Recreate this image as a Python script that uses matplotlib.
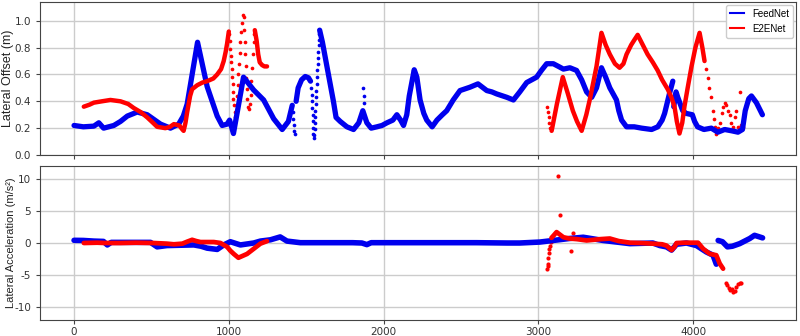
import numpy as np
import matplotlib
import matplotlib.pyplot as plt
from matplotlib.lines import Line2D
matplotlib.use('Agg')

# ---- top panel: lateral offset (m) ----
# FeedNet, dense parts drawn as thick lines, sparse parts as dots
fn_off_a_x = [0, 60, 128, 160, 191, 257, 300, 344, 408, 473, 559, 623, 676, 706, 731, 798,
              860, 925, 957, 989, 1005, 1030, 1095, 1160, 1225, 1290, 1345, 1385, 1410]
fn_off_a_y = [0.22, 0.21, 0.215, 0.24, 0.20, 0.22, 0.25, 0.29, 0.32, 0.30, 0.23, 0.20, 0.23, 0.29, 0.38, 0.84,
              0.51, 0.29, 0.22, 0.23, 0.26, 0.16, 0.58, 0.485, 0.41, 0.27, 0.19, 0.25, 0.37]
fn_off_b_x = [1435, 1448, 1470, 1494, 1515, 1528]
fn_off_b_y = [0.40, 0.50, 0.56, 0.585, 0.575, 0.55]
fn_off_c_x = [1587, 1605, 1634, 1676, 1693, 1720, 1763, 1806, 1840, 1866, 1892, 1920, 1957, 1990, 2022,
              2060, 2086, 2110, 2129, 2150, 2166, 2198, 2215, 2236, 2260, 2279, 2314, 2345, 2380, 2408,
              2450, 2494, 2558, 2610, 2667, 2700, 2731, 2796, 2839, 2880, 2925, 2989, 3020, 3054, 3097,
              3130, 3162, 3204, 3247, 3280, 3312, 3345, 3376, 3408, 3435, 3462, 3505, 3520, 3538, 3570,
              3620, 3668, 3732, 3772, 3800, 3816, 3848, 3869]
fn_off_c_y = [0.93, 0.84, 0.66, 0.40, 0.28, 0.25, 0.21, 0.19, 0.24, 0.33, 0.24, 0.20, 0.21, 0.22, 0.24,
              0.26, 0.30, 0.26, 0.22, 0.30, 0.44, 0.635, 0.58, 0.41, 0.31, 0.26, 0.21, 0.26, 0.30, 0.33,
              0.41, 0.48, 0.505, 0.53, 0.48, 0.47, 0.455, 0.43, 0.41, 0.47, 0.54, 0.58, 0.63, 0.68, 0.68,
              0.66, 0.64, 0.65, 0.63, 0.56, 0.47, 0.43, 0.50, 0.65, 0.58, 0.50, 0.41, 0.33, 0.26, 0.21,
              0.21, 0.20, 0.19, 0.21, 0.26, 0.31, 0.46, 0.55]
fn_off_d_x = [3875, 3890, 3901, 3933, 3955, 3995, 4010, 4029, 4070, 4118, 4160, 4204, 4250, 4290, 4319,
              4337, 4360, 4377, 4409, 4448]
fn_off_d_y = [0.36, 0.47, 0.43, 0.33, 0.31, 0.30, 0.25, 0.21, 0.19, 0.20, 0.17, 0.19, 0.18, 0.17, 0.19,
              0.33, 0.42, 0.44, 0.39, 0.30]
fn_off_dots_x = [1414, 1418, 1421, 1424, 1427, 1532, 1535, 1537, 1539, 1541, 1543, 1545, 1547, 1549,
                 1552, 1554, 1556, 1558, 1560, 1562, 1564, 1566, 1568, 1570, 1572, 1574, 1576, 1578,
                 1580, 1582, 1584, 1870, 1871, 1872]
fn_off_dots_y = [0.32, 0.27, 0.22, 0.18, 0.16, 0.50, 0.45, 0.40, 0.35, 0.30, 0.25, 0.20, 0.16, 0.13,
                 0.15, 0.19, 0.24, 0.28, 0.33, 0.38, 0.43, 0.48, 0.53, 0.58, 0.63, 0.68, 0.72, 0.77,
                 0.82, 0.86, 0.90, 0.50, 0.44, 0.39]

# E2ENet
e2e_off_a_x = [63, 100, 128, 180, 235, 300, 350, 386, 430, 473, 510, 537, 590, 620, 645, 680, 700, 708,
               720, 731, 750, 763, 796, 830, 860, 900, 925, 950, 967, 980, 989, 1000]
e2e_off_a_y = [0.36, 0.375, 0.39, 0.40, 0.41, 0.40, 0.38, 0.35, 0.32, 0.28, 0.24, 0.21, 0.20, 0.21, 0.23,
               0.22, 0.19, 0.18, 0.24, 0.32, 0.44, 0.49, 0.52, 0.54, 0.55, 0.57, 0.60, 0.64, 0.70, 0.77,
               0.83, 0.92]
e2e_off_b_x = [1168, 1180, 1190, 1200, 1215, 1230, 1247]
e2e_off_b_y = [0.93, 0.85, 0.75, 0.69, 0.67, 0.66, 0.66]
e2e_off_c_x = [3086, 3120, 3158, 3190, 3223, 3250, 3280, 3310, 3332, 3355, 3376, 3408, 3435, 3462, 3495,
               3525, 3550, 3570, 3600, 3622, 3642, 3675, 3706, 3740, 3771, 3800, 3836, 3860, 3880, 3895,
               3912, 3930, 3944, 3965, 3990, 4015, 4042, 4060, 4074]
e2e_off_c_y = [0.18, 0.38, 0.58, 0.46, 0.33, 0.25, 0.18, 0.30, 0.41, 0.54, 0.66, 0.91, 0.82, 0.75, 0.68,
               0.65, 0.68, 0.75, 0.82, 0.86, 0.895, 0.82, 0.75, 0.69, 0.63, 0.56, 0.49, 0.43, 0.36, 0.25,
               0.16, 0.24, 0.36, 0.50, 0.66, 0.80, 0.91, 0.80, 0.70]
e2e_off_dots_x = [1003, 1006, 1009, 1012, 1015, 1018, 1021, 1024, 1027, 1030, 1034, 1038, 1042, 1046,
                  1050, 1054, 1058, 1062, 1066, 1070, 1075, 1080, 1086, 1092, 1097, 1100, 1103, 1106,
                  1109, 1112, 1115, 1119, 1124, 1130, 1136, 1141, 1146, 1151, 1156, 1161, 1165,
                  3054, 3060, 3066, 3072, 3078,
                  4085, 4095, 4106, 4115, 4127, 4135, 4143, 4150, 4160, 4172, 4185, 4195, 4204, 4215,
                  4226, 4236, 4248, 4257, 4268, 4280, 4290, 4301, 4310, 4320]
e2e_off_dots_y = [0.90, 0.85, 0.79, 0.74, 0.69, 0.64, 0.58, 0.53, 0.47, 0.42, 0.37, 0.32, 0.28, 0.31,
                  0.37, 0.44, 0.52, 0.60, 0.68, 0.76, 0.84, 0.92, 0.98, 1.04, 1.03, 0.93, 0.84, 0.75,
                  0.66, 0.57, 0.49, 0.42, 0.36, 0.34, 0.38, 0.45, 0.55, 0.65, 0.75, 0.84, 0.90,
                  0.36, 0.32, 0.28, 0.24, 0.20,
                  0.64, 0.57, 0.50, 0.43, 0.33, 0.27, 0.21, 0.16, 0.20, 0.24, 0.31, 0.36, 0.39, 0.37,
                  0.33, 0.30, 0.24, 0.21, 0.28, 0.33, 0.21, 0.47, 0.22, 0.21]

# ---- bottom panel: lateral acceleration (m/s^2) ----
fn_acc_x = [0, 60, 128, 190, 215, 240, 344, 430, 494, 537, 600, 666, 774, 820, 860, 925, 967, 1010,
            1075, 1161, 1204, 1269, 1332, 1376, 1462, 1634, 1800, 1860, 1892, 1920, 2000, 2200, 2400,
            2600, 2800, 2880, 3010, 3097, 3200, 3290, 3418, 3592, 3740, 3785, 3828, 3861, 3893, 3957,
            4022, 4086, 4129, 4150]
fn_acc_y = [0.42, 0.40, 0.30, 0.25, -0.30, 0.10, 0.10, 0.10, 0.10, -0.60, -0.40, -0.36, -0.30, -0.50,
            -0.80, -1.00, -0.30, 0.20, -0.30, 0.00, 0.30, 0.50, 0.95, 0.30, 0.05, 0.05, 0.05, 0.00,
            -0.25, 0.05, 0.05, 0.05, 0.05, 0.05, 0.00, 0.00, 0.15, 0.40, 0.70, 0.90, 0.40, -0.10, 0.00,
            -0.40, -0.60, -1.10, -0.20, 0.00, -0.40, -1.40, -1.90, -3.30]
fn_acc_b_x = [4162, 4190, 4222, 4254, 4301, 4366, 4397, 4449]
fn_acc_b_y = [0.40, 0.20, -0.60, -0.50, -0.10, 0.70, 1.20, 0.80]

e2e_acc_a_x = [63, 150, 200, 300, 400, 514, 600, 645, 700, 730, 763, 790, 817, 903, 946, 989, 1010,
               1032, 1062, 1090, 1118, 1161, 1204, 1247]
e2e_acc_a_y = [0.00, 0.05, 0.00, 0.00, 0.05, 0.00, -0.10, -0.20, -0.10, 0.20, 0.50, 0.30, 0.15, 0.15,
               0.00, -0.60, -1.20, -1.70, -2.30, -2.00, -1.70, -0.90, -0.10, 0.30]
e2e_acc_b_x = [3085, 3100, 3118, 3140, 3162, 3200, 3250, 3312, 3400, 3462, 3520, 3592, 3660, 3740, 3800,
               3828, 3861, 3880, 3893, 3950, 4032, 4065, 4108, 4150, 4172, 4194]
e2e_acc_b_y = [0.80, 1.20, 1.70, 1.30, 0.90, 0.70, 0.60, 0.40, 0.60, 0.70, 0.30, 0.05, 0.00, -0.10,
               -0.20, -0.40, -1.10, -0.60, 0.00, 0.05, 0.05, -0.90, -1.70, -1.90, -3.20, -4.00]
e2e_acc_dots_x = [3058, 3060, 3062, 3065, 3068, 3072, 3076, 3080, 3125, 3140, 3214, 3223,
                  4210, 4222, 4232, 4240, 4250, 4258, 4270, 4280, 4290, 4300, 4312]
e2e_acc_dots_y = [-4.1, -3.6, -3.2, -2.3, -1.6, -1.0, -0.4, 0.2, 10.5, 4.3, -1.3, 1.5,
                  -6.2, -6.6, -7.0, -7.4, -7.2, -7.6, -7.5, -6.8, -6.4, -6.3, -6.3]

blue = '#0000ee'
red = '#ff0000'
lab_font = 'Liberation Sans'

plt.rcParams['font.family'] = 'DejaVu Sans'
plt.rcParams['axes.unicode_minus'] = False
plt.rcParams['xtick.labelsize'] = 7.5
plt.rcParams['ytick.labelsize'] = 7.5
plt.rcParams['xtick.color'] = '#333333'
plt.rcParams['ytick.color'] = '#333333'

fig = plt.figure(figsize=(8, 3.36), dpi=100)
ax1 = fig.add_axes([0.05, 0.5387, 0.945, 0.4554])
ax2 = fig.add_axes([0.05, 0.0476, 0.945, 0.4583], sharex=ax1)


def dense(ax, x, y, color, lw):
    ax.plot(x, y, color=color, lw=lw, solid_capstyle='round', solid_joinstyle='round')


# top
for xs, ys in [(fn_off_a_x, fn_off_a_y), (fn_off_b_x, fn_off_b_y),
               (fn_off_c_x, fn_off_c_y), (fn_off_d_x, fn_off_d_y)]:
    dense(ax1, xs, ys, blue, 3.8)
ax1.scatter(fn_off_dots_x, fn_off_dots_y, s=7, color=blue, lw=0)
for xs, ys in [(e2e_off_a_x, e2e_off_a_y), (e2e_off_b_x, e2e_off_b_y), (e2e_off_c_x, e2e_off_c_y)]:
    dense(ax1, xs, ys, red, 3.2)
ax1.scatter(e2e_off_dots_x, e2e_off_dots_y, s=7, color=red, lw=0)

# bottom
dense(ax2, fn_acc_x, fn_acc_y, blue, 4.0)
dense(ax2, fn_acc_b_x, fn_acc_b_y, blue, 4.0)
dense(ax2, e2e_acc_a_x, e2e_acc_a_y, red, 3.4)
dense(ax2, e2e_acc_b_x, e2e_acc_b_y, red, 3.4)
ax2.scatter(e2e_acc_dots_x, e2e_acc_dots_y, s=9, color=red, lw=0)

ax1.set_xlim(-220, 4665)
ax1.set_ylim(0, 1.14)
ax1.set_yticks([0.0, 0.2, 0.4, 0.6, 0.8, 1.0])
ax2.set_ylim(-12, 12)
ax2.set_yticks([-10, -5, 0, 5, 10])
ax2.set_xticks([0, 1000, 2000, 3000, 4000])
ax1.tick_params(labelbottom=False)

for ax in (ax1, ax2):
    ax.grid(True, color='#cccccc', lw=1)
    ax.set_axisbelow(True)
    for s in ax.spines.values():
        s.set_color('#444444')
    ax.tick_params(axis='x', length=3, color='#444444', pad=2)
    ax.tick_params(axis='y', length=3, color='#444444', pad=3.5)

ax1.set_ylabel('Lateral Offset (m)', family=lab_font, fontsize=9, color='#222222')
ax2.set_ylabel('Lateral Acceleration (m/s²)', family=lab_font, fontsize=8, color='#222222')
ax1.yaxis.set_label_coords(-0.034, 0.5)
ax2.yaxis.set_label_coords(-0.0315, 0.5)

handles = [Line2D([], [], color=blue, lw=1.5), Line2D([], [], color=red, lw=1.5)]
ax1.legend(handles, ['FeedNet', 'E2ENet'], loc='upper right', borderaxespad=0.3,
           prop={'family': lab_font, 'size': 7}, handlelength=1.5, framealpha=1, edgecolor='#cccccc')

plt.savefig('out.png')
plt.close()
